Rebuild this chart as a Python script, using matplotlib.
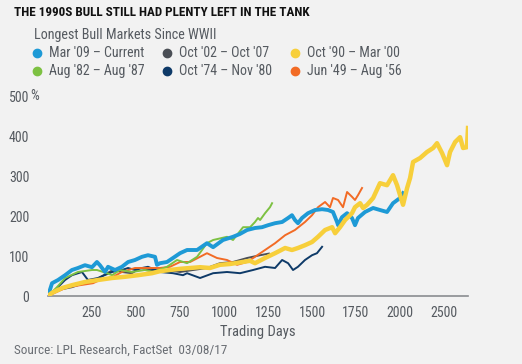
import matplotlib
matplotlib.use("Agg")
from matplotlib import pyplot as plt
from matplotlib.lines import Line2D

plt.rcParams['font.family'] = ['Roboto Condensed', 'DejaVu Sans']

# ---- data (trading days, % gain) ----
labels = ["Mar '09 – Current", "Aug '82 – Aug '87", "Oct '02 – Oct '07",
          "Oct '74 – Nov '80", "Oct '90 – Mar '00", "Jun '49 – Aug '56"]
colors = ["#1e9ad6", "#7dc142", "#4b4f56", "#0e3a68", "#f7cf3b", "#f26b25"]

days_0909 = [0, 23, 57, 97, 136, 170, 210, 250, 278, 295, 324, 341, 381, 420, 455, 494, 534, 568,
             608, 619, 636, 676, 710, 750, 790, 847, 903, 938, 994, 1051, 1090, 1131, 1176, 1216,
             1250, 1290, 1330, 1364, 1386, 1403, 1420, 1443, 1477, 1517, 1557, 1591, 1619, 1642,
             1648, 1670, 1699, 1727, 1744, 1761, 1801, 1847, 1886, 1926, 1960, 2000, 2017]
vals_0909 = [0, 32, 40, 52, 65, 70, 77, 72, 85, 77, 60, 73, 65, 73, 85, 90, 98, 102,
             98, 78, 82, 85, 95, 107, 115, 115, 132, 122, 140, 148, 155, 165, 170, 172,
             177, 182, 185, 195, 202, 190, 182, 195, 207, 215, 217, 215, 210, 185,
             177, 197, 207, 195, 177, 195, 210, 220, 215, 210, 232, 245, 257]

days_8287 = [0, 51, 97, 170, 250, 278, 335, 364, 409, 477, 551, 597, 676, 733, 790, 847, 903, 938,
             1017, 1051, 1108, 1148, 1176, 1193, 1205, 1233, 1261, 1273]
vals_8287 = [0, 22, 45, 60, 65, 65, 57, 52, 65, 60, 65, 60, 73, 90, 82, 98, 132, 140,
             148, 140, 172, 172, 185, 195, 190, 207, 222, 232]

days_0207 = [0, 57, 136, 170, 267, 369, 420, 477, 523, 580, 676, 750, 824, 903, 977, 1051,
             1131, 1205, 1255]
vals_0207 = [0, 15, 22, 27, 40, 65, 60, 57, 70, 65, 65, 60, 65, 70, 82, 85,
             95, 102, 106]

days_7480 = [0, 40, 97, 136, 193, 227, 284, 364, 420, 455, 494, 534, 568, 636, 710, 767, 790, 864,
             938, 1017, 1091, 1165, 1233, 1290, 1330, 1364, 1392, 1420, 1460, 1500, 1528, 1557]
vals_7480 = [0, 15, 40, 52, 60, 40, 45, 60, 65, 70, 65, 70, 73, 60, 57, 52, 57, 45,
             57, 60, 57, 65, 73, 70, 90, 82, 65, 73, 90, 102, 107, 123]

days_9000 = [0, 23, 80, 136, 210, 284, 364, 437, 511, 591, 636, 750, 864, 920, 977, 1034, 1091,
             1148, 1176, 1233, 1290, 1347, 1386, 1420, 1460, 1500, 1534, 1574, 1614, 1631, 1659,
             1688, 1727, 1744, 1773, 1790, 1813, 1847, 1886, 1926, 1960, 1983, 2000, 2017, 2040,
             2057, 2074, 2114, 2153, 2188, 2210, 2239, 2267, 2284, 2313, 2341, 2358, 2380, 2386]
vals_9000 = [0, 8, 20, 27, 35, 40, 45, 48, 52, 57, 62, 68, 72, 70, 78, 80, 84,
             88, 82, 95, 107, 120, 115, 120, 127, 135, 148, 165, 172, 157, 172,
             190, 207, 222, 232, 220, 228, 245, 282, 277, 302, 277, 252, 228, 270,
             295, 335, 345, 360, 370, 382, 357, 327, 360, 385, 397, 370, 372, 420]

days_4956 = [0, 108, 256, 295, 369, 420, 494, 551, 636, 693, 750, 807, 864, 903, 960, 1017,
             1074, 1131, 1176, 1233, 1290, 1347, 1403, 1460, 1500, 1534, 1574, 1602, 1619,
             1648, 1676, 1699, 1727, 1744, 1761, 1784]
vals_4956 = [0, 22, 32, 40, 48, 60, 70, 70, 70, 73, 85, 85, 98, 107, 95, 90,
             78, 85, 98, 115, 132, 152, 165, 185, 202, 222, 235, 222, 245,
             240, 222, 260, 248, 240, 252, 270]

series = [(days_0909, vals_0909), (days_8287, vals_8287), (days_0207, vals_0207),
          (days_7480, vals_7480), (days_9000, vals_9000), (days_4956, vals_4956)]
widths = [2.8, 1.4, 1.4, 1.4, 3.2, 1.4]
zorders = [5, 4, 2, 2, 6, 3]

x_ticks = [250, 500, 750, 1000, 1250, 1500, 1750, 2000, 2250]
x_tick_labels = ["250", "500", "750", "1000", "1250", "1500", "1750", "2000", "2500"]
y_ticks = [0, 100, 200, 300, 400, 500]

bg = "#f2f2f2"
txt = "#555a60"

fig = plt.figure(figsize=(5.22, 3.64), dpi=100, facecolor=bg)
ax = fig.add_axes([48 / 522, 1 - 296 / 364, 420 / 522, 200 / 364], facecolor=bg)

for (d, v), c, lw, z in zip(series, colors, widths, zorders):
    ax.plot(d, v, color=c, lw=lw, zorder=z, solid_joinstyle='round')

ax.set_xlim(0, 2386)
ax.set_ylim(0, 500)
ax.set_xticks(x_ticks)
ax.set_xticklabels(x_tick_labels)
ax.set_yticks(y_ticks)
ax.set_yticklabels([str(t) for t in y_ticks])
ax.tick_params(axis='both', length=0, colors=txt, labelsize=10)
ax.tick_params(axis='y', pad=13.5)
ax.tick_params(axis='x', pad=7)
for s in ['top', 'right', 'left']:
    ax.spines[s].set_visible(False)
ax.spines['bottom'].set_color("#8a8c90")
ax.spines['bottom'].set_linewidth(1.2)
ax.set_xlabel("Trading Days", color=txt, fontsize=10.5, labelpad=4)
ax.text(-0.042, 500, "%", transform=ax.get_yaxis_transform(), ha='left', va='center',
        color=txt, fontsize=10)

fig.text(14 / 522, 1 - 12 / 364, "THE 1990S BULL STILL HAD PLENTY LEFT IN THE TANK",
         fontsize=9.45, fontweight='bold', color="#111111", va='center', ha='left')
fig.text(34 / 522, 1 - 35 / 364, "Longest Bull Markets Since WWII", fontsize=10.2,
         color=txt, va='center', ha='left')

# manual legend, 3 columns x 2 rows
col_x = [37, 167, 295]
row_y = [53, 71]
for i, (lab, c) in enumerate(zip(labels, colors)):
    cx = col_x[i // 2]
    ry = row_y[i % 2]
    fig.add_artist(Line2D([cx / 522], [1 - ry / 364], marker='o', markersize=6,
                          color=c, linestyle='none', transform=fig.transFigure))
    fig.text((cx + 12) / 522, 1 - ry / 364, lab, fontsize=10, color=txt,
             va='center', ha='left')

fig.text(14 / 522, 1 - 350 / 364, "Source: LPL Research, FactSet  03/08/17", fontsize=9.5,
         color="#6a6e74", va='center', ha='left')

fig.savefig("out.png", dpi=100, facecolor=bg)
